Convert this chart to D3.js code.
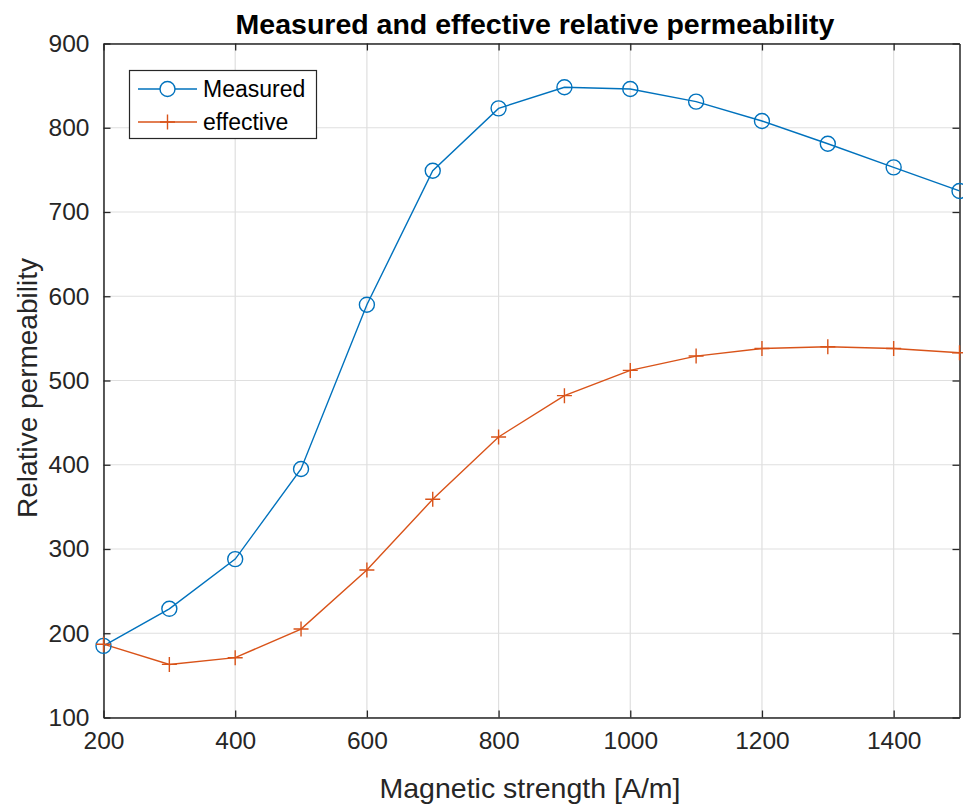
<!DOCTYPE html>
<html><head><meta charset="utf-8">
<script src="https://cdn.jsdelivr.net/npm/d3@7"></script>
<style>body{margin:0;background:#fff;} svg{display:block;font-family:"Liberation Sans",Arial,Helvetica,sans-serif;}</style>
</head><body>
<svg id="chart" width="963" height="809"></svg>
<script>
const fieldStrength = [200,300,400,500,600,700,800,900,1000,1100,1200,1300,1400,1500];
const measured  = [185,229,288,395,590,749,823,848,846,831,808,781,753,725];
const effective = [187,163,171,205,275,359,433,482,512,529,538,540,538,533];
const xTicks = [200,400,600,800,1000,1200,1400];
const yTicks = [100,200,300,400,500,600,700,800,900];
const seriesNames = ["Measured","effective"];
const colors = ["#0072BD","#D95319"];

const svg = d3.select("#chart");
svg.append("rect").attr("width",963).attr("height",809).attr("fill","#fff");
const L=103.5, R=959.5, T=43.5, B=717.5;
const x = d3.scaleLinear().domain([200,1500]).range([L,R]);
const y = d3.scaleLinear().domain([100,900]).range([B,T]);

// grid
const g = svg.append("g");
g.selectAll(".gx").data(xTicks).enter().append("line")
 .attr("x1",d=>x(d)).attr("x2",d=>x(d)).attr("y1",T).attr("y2",B)
 .attr("stroke","#dfdfdf").attr("stroke-width",1.2);
g.selectAll(".gy").data(yTicks).enter().append("line")
 .attr("y1",d=>y(d)).attr("y2",d=>y(d)).attr("x1",L).attr("x2",R)
 .attr("stroke","#dfdfdf").attr("stroke-width",1.2);

// axes
const axisColor="#262626";
const tickLen=7;
const fmt = d3.format("d");
const ax = svg.append("g").attr("transform",`translate(0,${B})`)
 .call(d3.axisBottom(x).tickValues(xTicks).tickFormat(fmt).tickSizeInner(-tickLen).tickSizeOuter(0).tickPadding(14));
const ay = svg.append("g").attr("transform",`translate(${L},0)`)
 .call(d3.axisLeft(y).tickValues(yTicks).tickFormat(fmt).tickSizeInner(-tickLen).tickSizeOuter(0).tickPadding(14));
const axT = svg.append("g").attr("transform",`translate(0,${T})`)
 .call(d3.axisTop(x).tickValues(xTicks).tickSizeInner(-tickLen).tickSizeOuter(0).tickFormat(""));
const ayR = svg.append("g").attr("transform",`translate(${R},0)`)
 .call(d3.axisRight(y).tickValues(yTicks).tickSizeInner(-tickLen).tickSizeOuter(0).tickFormat(""));
[ax,ay,axT,ayR].forEach(a=>{
  a.select(".domain").attr("stroke",axisColor).attr("stroke-width",1.5);
  a.selectAll(".tick line").attr("stroke",axisColor).attr("stroke-width",1.3);
  a.selectAll(".tick text").attr("fill","#262626").attr("font-size","24.5px").attr("font-family","Liberation Sans, Arial, sans-serif");
});

// lines
const line = d3.line().x((d,i)=>x(fieldStrength[i])).y(d=>y(d));
[measured,effective].forEach((s,k)=>{
  svg.append("path").datum(s).attr("d",line).attr("fill","none")
    .attr("stroke",colors[k]).attr("stroke-width",1.4);
});
svg.selectAll(".mc").data(measured).enter().append("circle")
  .attr("cx",(d,i)=>x(fieldStrength[i])).attr("cy",d=>y(d)).attr("r",7.5)
  .attr("fill","none").attr("stroke",colors[0]).attr("stroke-width",1.4);
const pm = 7.5;
svg.selectAll(".mp").data(effective).enter().append("path")
  .attr("d",(d,i)=>{const cx=x(fieldStrength[i]),cy=y(d);return `M${cx-pm},${cy}H${cx+pm}M${cx},${cy-pm}V${cy+pm}`;})
  .attr("stroke",colors[1]).attr("stroke-width",1.4).attr("fill","none");

// labels
svg.append("text").attr("x",535).attr("y",34).attr("text-anchor","middle")
  .attr("font-size","28.5px").attr("font-weight","bold").attr("fill","#000")
  .text("Measured and effective relative permeability");
svg.append("text").attr("x",530).attr("y",798).attr("text-anchor","middle")
  .attr("font-size","28.5px").attr("fill","#262626").text("Magnetic strength [A/m]");
svg.append("text").attr("transform",`translate(37,388) rotate(-90)`).attr("text-anchor","middle")
  .attr("font-size","28px").attr("fill","#262626").text("Relative permeability");

// legend
const lg = svg.append("g");
lg.append("rect").attr("x",129.5).attr("y",70.5).attr("width",187).attr("height",68)
  .attr("fill","#fff").attr("stroke","#262626").attr("stroke-width",1.2);
const rowsY=[89,122];
seriesNames.forEach((n,k)=>{
  lg.append("line").attr("x1",138).attr("x2",197).attr("y1",rowsY[k]).attr("y2",rowsY[k])
    .attr("stroke",colors[k]).attr("stroke-width",1.4);
  if(k===0){
    lg.append("circle").attr("cx",167.5).attr("cy",rowsY[k]).attr("r",7.5).attr("fill","#fff")
      .attr("stroke",colors[k]).attr("stroke-width",1.4);
  } else {
    lg.append("path").attr("d",`M${167.5-pm},${rowsY[k]}H${167.5+pm}M167.5,${rowsY[k]-pm}V${rowsY[k]+pm}`)
      .attr("stroke",colors[k]).attr("stroke-width",1.4);
  }
  lg.append("text").attr("x",203).attr("y",rowsY[k]+8).attr("font-size","23px").attr("fill","#000").text(n);
});
</script>
</body></html>
